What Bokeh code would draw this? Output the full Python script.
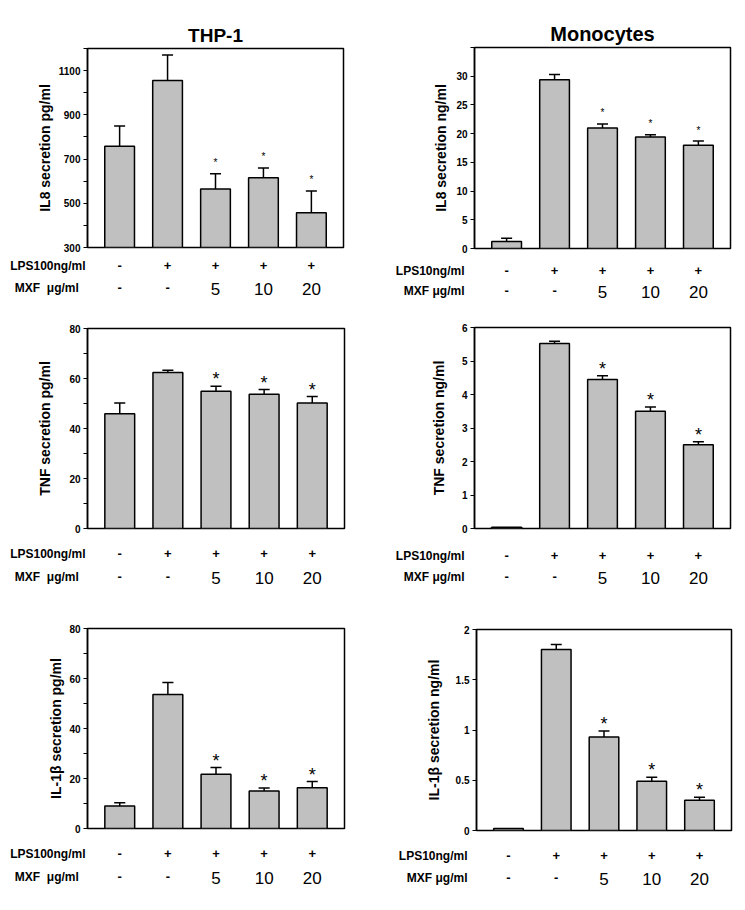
from bokeh.plotting import figure
from bokeh.models import Range1d, FixedTicker, ColumnDataSource
from bokeh.layouts import column, row
from bokeh.embed import file_html
from bokeh.resources import INLINE
from bokeh.core.properties import value

# ---------------- data ----------------
conditions = ["control", "LPS", "LPS+MXF5", "LPS+MXF10", "LPS+MXF20"]
lps_row = ["-", "+", "+", "+", "+"]
mxf_row = ["-", "-", "5", "10", "20"]
significant = [False, False, True, True, True]

thp_il8 = [758, 1055, 565, 615, 457]
thp_il8_err = [92, 116, 69, 45, 99]
thp_il8_ticks = [300, 400, 500, 600, 700, 800, 900, 1000, 1100, 1200]
thp_il8_ticklabels = ["300", "", "500", "", "700", "", "900", "", "1100", ""]

mono_il8 = [1.2, 29.4, 21.0, 19.4, 18.0]
mono_il8_err = [0.6, 0.9, 0.7, 0.4, 0.7]
mono_il8_ticks = [0, 5, 10, 15, 20, 25, 30, 35]
mono_il8_ticklabels = ["0", "5", "10", "15", "20", "25", "30", ""]

thp_tnf = [45.9, 62.4, 54.9, 53.7, 50.2]
thp_tnf_err = [4.3, 0.9, 2.0, 1.9, 2.6]
thp_tnf_ticks = [0, 10, 20, 30, 40, 50, 60, 70, 80]
thp_tnf_ticklabels = ["0", "", "20", "", "40", "", "60", "", "80"]

mono_tnf = [0.04, 5.52, 4.45, 3.50, 2.50]
mono_tnf_err = [0.0, 0.07, 0.11, 0.13, 0.09]
mono_tnf_ticks = [0, 1, 2, 3, 4, 5, 6]
mono_tnf_ticklabels = ["0", "1", "2", "3", "4", "5", "6"]

thp_il1b = [9.0, 53.6, 21.7, 15.0, 16.3]
thp_il1b_err = [1.3, 4.8, 2.7, 1.2, 2.5]
thp_il1b_ticks = [0, 10, 20, 30, 40, 50, 60, 70, 80]
thp_il1b_ticklabels = ["0", "", "20", "", "40", "", "60", "", "80"]

mono_il1b = [0.02, 1.80, 0.93, 0.49, 0.30]
mono_il1b_err = [0.0, 0.05, 0.06, 0.04, 0.03]
mono_il1b_ticks = [0, 0.5, 1.0, 1.5, 2.0]
mono_il1b_ticklabels = ["0", "0.5", "1", "1.5", "2"]

FONT = "Liberation Sans"
X0, X1 = -0.67, 4.67
BB = 8  # bottom border of the chart part


def make_panel(vals, errs, ticks, ticklabels, ylabel, lps_label, mxf_label, title, g):
    W, H = g["W"], g["H"]
    L, R, T, B = g["frame"]
    y0, y1 = ticks[0], ticks[-1]
    fh = B - T
    dy = (y1 - y0) / fh
    ch = B + BB  # chart figure height

    p = figure(width=W, height=ch, x_range=Range1d(X0, X1), y_range=Range1d(y0, y1),
               output_backend="svg", toolbar_location=None, x_axis_location=None,
               min_border_left=L, min_border_right=W - R, min_border_top=T,
               min_border_bottom=BB, background_fill_color="white",
               border_fill_color="white")
    p.xgrid.visible = False
    p.ygrid.visible = False
    p.outline_line_color = "black"
    p.outline_line_width = 1.5

    if title:
        p.title.text = title
        p.title.align = "center"
        p.title.text_font = FONT
        p.title.text_font_size = g["title_size"]
        p.title.text_font_style = "bold"
        p.title.text_color = "black"
        p.title.standoff = g["title_standoff"]
        p.title.offset = g.get("title_offset", 0)

    ax = p.yaxis[0]
    ax.ticker = FixedTicker(ticks=ticks, minor_ticks=[])
    ax.major_label_overrides = {t: l for t, l in zip(ticks, ticklabels)}
    ax.axis_line_color = "black"
    ax.axis_line_width = 1.5
    ax.major_tick_line_color = "black"
    ax.major_tick_line_width = 1
    ax.major_tick_out = 4
    ax.major_tick_in = 0
    ax.minor_tick_line_color = None
    ax.major_label_standoff = 3
    ax.major_label_text_font = FONT
    ax.major_label_text_font_style = "bold"
    ax.major_label_text_font_size = "10px"
    ax.major_label_text_color = "black"
    ax.axis_label = ylabel
    ax.axis_label_text_font = FONT
    ax.axis_label_text_font_style = "bold"
    ax.axis_label_text_font_size = "14px"
    ax.axis_label_text_color = "black"
    ax.axis_label_standoff = g["ylab_standoff"]

    xs = list(range(len(vals)))
    src = ColumnDataSource(dict(x=xs, top=vals))
    p.vbar(x="x", top="top", bottom=y0, width=0.62, source=src,
           fill_color="#c0c0c0", line_color="black", line_width=1.5)

    ex = [x for x, e in zip(xs, errs) if e > 0]
    eb = [v for v, e in zip(vals, errs) if e > 0]
    et = [v + e for v, e in zip(vals, errs) if e > 0]
    p.segment(x0=ex, y0=eb, x1=ex, y1=et, line_color="black", line_width=1.5)
    p.segment(x0=[x - 0.115 for x in ex], y0=et, x1=[x + 0.115 for x in ex], y1=et,
              line_color="black", line_width=1.5)

    sx = [x for x, s in zip(xs, significant) if s]
    sy = [v + e + g["star_off"] * dy for v, e, s in zip(vals, errs, significant) if s]
    p.text(x=sx, y=sy, text=["*"] * len(sx), text_font=value(FONT),
           text_font_size=value(g["star_size"]), text_align="center",
           text_baseline="alphabetic", text_color="black")

    # ---- treatment table below the chart, sharing the x scale ----
    th = H - ch
    r1, r2 = g["rows"]
    yr1, yr2 = r1 - ch, r2 - ch
    t = figure(width=W, height=th, x_range=Range1d(X0, X1), y_range=Range1d(th, 0),
               output_backend="svg", toolbar_location=None, x_axis_location=None,
               min_border_left=L, min_border_right=W - R, min_border_top=0,
               min_border_bottom=0, background_fill_color="white",
               border_fill_color="white")
    t.xgrid.visible = False
    t.ygrid.visible = False
    t.outline_line_color = None
    tax = t.yaxis[0]
    tax.ticker = FixedTicker(ticks=[yr1, yr2], minor_ticks=[])
    tax.major_label_overrides = {yr1: lps_label, yr2: mxf_label}
    tax.axis_line_color = None
    tax.major_tick_line_color = None
    tax.minor_tick_line_color = None
    tax.major_tick_out = 0
    tax.major_label_standoff = g["row_standoff"]
    tax.major_label_text_font = FONT
    tax.major_label_text_font_style = "bold"
    tax.major_label_text_font_size = "12px"
    tax.major_label_text_color = "black"

    def txt(x, y, s, size, style):
        t.text(x=x, y=y, text=s, text_font=value(FONT), text_font_size=value(size),
               text_font_style=value(style), text_align="center",
               text_baseline="middle", text_color="black")

    txt(xs, [yr1] * len(xs), lps_row, "13px", "bold")
    dash_x = [i for i in xs if mxf_row[i] == "-"]
    num_x = [i for i in xs if mxf_row[i] != "-"]
    txt(dash_x, [yr2] * len(dash_x), [mxf_row[i] for i in dash_x], "13px", "bold")
    txt(num_x, [yr2 + 1] * len(num_x), [mxf_row[i] for i in num_x], "17px", "normal")

    return column(p, t)


NB = "\u00a0"
mxf_thp = "MXF" + NB + NB + "\u03bcg/ml" + NB + NB
mxf_mono = "MXF" + NB + "\u03bcg/ml"

g1 = dict(W=372, H=300, frame=(87, 343, 48, 247), star_off=11, star_size="10px",
          title_size="19px", title_standoff=5, ylab_standoff=3,
          rows=(265, 287), row_standoff=2)
g2 = dict(W=373, H=300, frame=(102, 358, 47, 248), star_off=11, star_size="10px",
          title_size="20px", title_standoff=5, title_offset=-5, ylab_standoff=4,
          rows=(270, 290), row_standoff=10)
g3 = dict(W=372, H=310, frame=(87, 344, 28, 228), star_off=7, star_size="18px",
          ylab_standoff=13, rows=(253, 276), row_standoff=2)
g4 = dict(W=373, H=310, frame=(102, 358, 27, 228), star_off=7, star_size="18px",
          ylab_standoff=12, rows=(255, 276), row_standoff=10)
g5 = dict(W=372, H=300, frame=(87, 344, 18, 218), star_off=7, star_size="18px",
          ylab_standoff=2, rows=(243, 266), row_standoff=2)
g6 = dict(W=373, H=300, frame=(104, 359, 19, 220), star_off=7, star_size="18px",
          ylab_standoff=11, rows=(245, 267), row_standoff=9)

p1 = make_panel(thp_il8, thp_il8_err, thp_il8_ticks, thp_il8_ticklabels,
                "IL8 secretion pg/ml", "LPS100ng/ml", mxf_thp, "THP-1", g1)
p2 = make_panel(mono_il8, mono_il8_err, mono_il8_ticks, mono_il8_ticklabels,
                "IL8 secretion ng/ml", "LPS10ng/ml", mxf_mono, "Monocytes", g2)
p3 = make_panel(thp_tnf, thp_tnf_err, thp_tnf_ticks, thp_tnf_ticklabels,
                "TNF secretion pg/ml", "LPS100ng/ml", mxf_thp, None, g3)
p4 = make_panel(mono_tnf, mono_tnf_err, mono_tnf_ticks, mono_tnf_ticklabels,
                "TNF secretion ng/ml", "LPS10ng/ml", mxf_mono, None, g4)
p5 = make_panel(thp_il1b, thp_il1b_err, thp_il1b_ticks, thp_il1b_ticklabels,
                "IL-1\u03b2 secretion pg/ml", "LPS100ng/ml", mxf_thp, None, g5)
p6 = make_panel(mono_il1b, mono_il1b_err, mono_il1b_ticks, mono_il1b_ticklabels,
                "IL-1\u03b2 secretion ng/ml", "LPS10ng/ml", mxf_mono, None, g6)

layout = column(row(p1, p2), row(p3, p4), row(p5, p6))
open("out.html", "w").write(file_html(layout, INLINE))
